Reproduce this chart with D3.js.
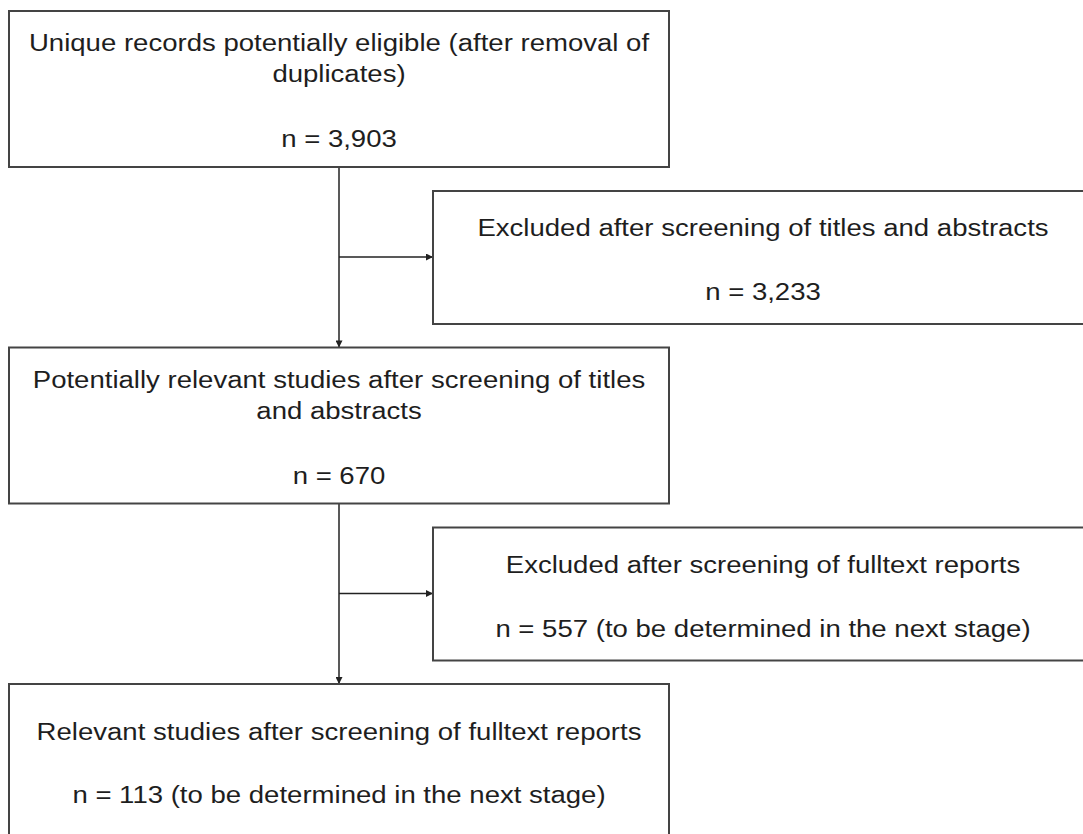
<!DOCTYPE html>
<html>
<head>
<meta charset="utf-8">
<script src="https://cdn.jsdelivr.net/npm/d3@7"></script>
<style>
  html, body { margin: 0; padding: 0; background: #fff; }
  svg { display: block; }
</style>
</head>
<body>
<div id="chart"></div>
<script>
// flow data
var stageLabels = [
  ["Unique records potentially eligible (after removal of", "duplicates)"],
  ["Potentially relevant studies after screening of titles", "and abstracts"],
  ["Relevant studies after screening of fulltext reports"]
];
var stageCounts = [3903, 670, 113];
var stageNotes = ["", "", " (to be determined in the next stage)"];

var excludedLabels = [
  "Excluded after screening of titles and abstracts",
  "Excluded after screening of fulltext reports"
];
var excludedCounts = [3233, 557];
var excludedNotes = ["", " (to be determined in the next stage)"];

var width = 1083, height = 834;
var fmt = d3.format(",");

var svg = d3.select("#chart").append("svg")
  .attr("width", width)
  .attr("height", height);

// row position of each stage
var y = d3.scaleLinear().domain([0, 1]).range([11, 347.5]);
var xMain = d3.scaleLinear().domain([0, 1]).range([9, 669]);
var xSide = d3.scaleLinear().domain([0, 1]).range([433, 1095]);
var cx = (xMain(0) + xMain(1)) / 2;

var stageH = 156, sideH = 133, sideOff = 180;

var stages = stageLabels.map(function(l, i) {
  return {lines: l, text: "n = " + fmt(stageCounts[i]) + stageNotes[i], i: i};
});
var sides = excludedLabels.map(function(l, i) {
  return {lines: [l], text: "n = " + fmt(excludedCounts[i]) + excludedNotes[i], i: i};
});

svg.append("defs").append("marker")
  .attr("id", "arr")
  .attr("viewBox", "0 0 10 10")
  .attr("refX", 10).attr("refY", 5)
  .attr("markerWidth", 9).attr("markerHeight", 7)
  .attr("markerUnits", "userSpaceOnUse")
  .attr("orient", "auto")
  .append("path")
  .attr("d", "M0,0L10,5L0,10Z")
  .attr("fill", "#222");

var font = "'Liberation Sans', Arial, sans-serif";
var fs = 24.5, sx = 1.125;

function addText(g, str, tx, ty) {
  g.append("text")
    .attr("transform", "translate(" + tx + "," + ty + ") scale(" + sx + ",1)")
    .attr("text-anchor", "middle")
    .attr("font-family", font)
    .attr("font-size", fs)
    .attr("fill", "#1e1e1e")
    .text(str);
}

// connectors
stages.slice(0, -1).forEach(function(d) {
  var top = y(d.i) + stageH, bottom = y(d.i + 1);
  var midY = y(d.i) + sideOff + 66;
  svg.append("line")
    .attr("x1", cx).attr("x2", cx)
    .attr("y1", top).attr("y2", bottom)
    .attr("stroke", "#222").attr("stroke-width", 1.5)
    .attr("marker-end", "url(#arr)");
  svg.append("line")
    .attr("x1", cx).attr("x2", xSide(0))
    .attr("y1", midY).attr("y2", midY)
    .attr("stroke", "#222").attr("stroke-width", 1.5)
    .attr("marker-end", "url(#arr)");
});

// main boxes
var sg = svg.selectAll("g.stage")
  .data(stages)
  .join("g")
  .attr("class", "stage");

sg.append("rect")
  .attr("x", xMain(0))
  .attr("y", function(d) { return y(d.i); })
  .attr("width", xMain(1) - xMain(0))
  .attr("height", stageH)
  .attr("fill", "#fff")
  .attr("stroke", "#444")
  .attr("stroke-width", 2);

sg.each(function(d) {
  var g = d3.select(this);
  var t0 = y(d.i);
  var first = d.lines.length > 1 ? 40 : 56;
  d.lines.forEach(function(l, k) {
    addText(g, l, cx, t0 + first + k * 31);
  });
  addText(g, d.text, cx, t0 + (d.lines.length > 1 ? 136 : 119));
});

// side boxes
var eg = svg.selectAll("g.side")
  .data(sides)
  .join("g")
  .attr("class", "side");

eg.append("rect")
  .attr("x", xSide(0))
  .attr("y", function(d) { return y(d.i) + sideOff; })
  .attr("width", xSide(1) - xSide(0))
  .attr("height", sideH)
  .attr("fill", "#fff")
  .attr("stroke", "#444")
  .attr("stroke-width", 2);

eg.each(function(d) {
  var g = d3.select(this);
  var t0 = y(d.i) + sideOff;
  var scx = (xSide(0) + xSide(1)) / 2 - 1;
  addText(g, d.lines[0], scx, t0 + 45);
  addText(g, d.text, scx, t0 + 109);
});
</script>
</body>
</html>
